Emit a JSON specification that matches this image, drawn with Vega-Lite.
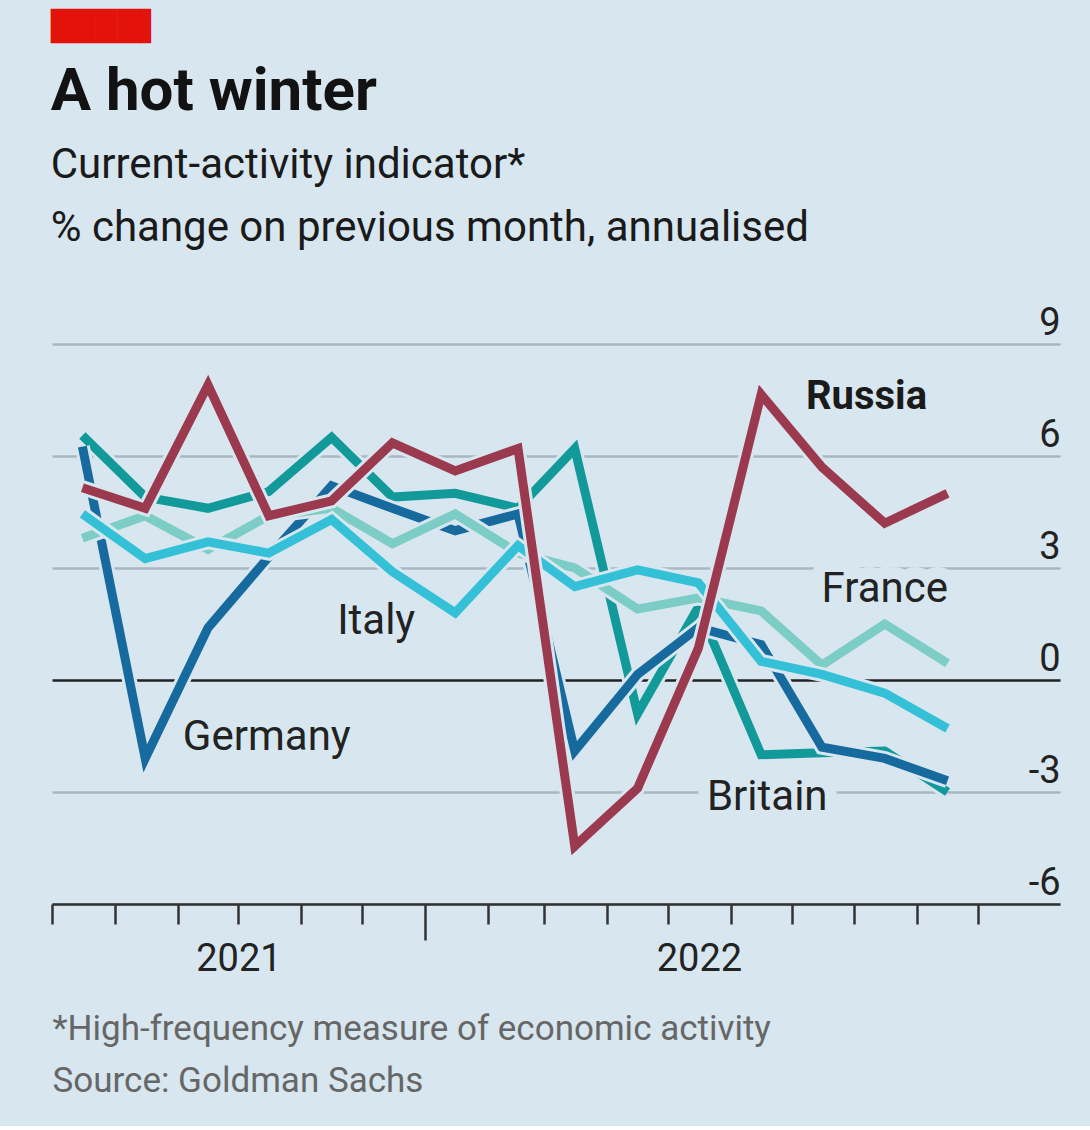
{
  "$schema": "https://vega.github.io/schema/vega-lite/v6.json",
  "background": "#d7e6ef",
  "padding": {"left": 50, "right": 32, "top": 13, "bottom": 28},
  "config": {"view": {"stroke": null}, "font": "Roboto"},
  "title": {"text": "████▌", "font": "DejaVu Sans", "fontSize": 29, "color": "#e3120b", "anchor": "start", "offset": 20, "fontWeight": "normal", "baseline": "top"},
  "datasets": {
    "series": [
      {"country": "Russia", "date": "2021-07-16", "value": 5.15},
      {"country": "Russia", "date": "2021-08-16", "value": 4.6},
      {"country": "Russia", "date": "2021-09-16", "value": 7.9},
      {"country": "Russia", "date": "2021-10-16", "value": 4.4},
      {"country": "Russia", "date": "2021-11-16", "value": 4.8},
      {"country": "Russia", "date": "2021-12-16", "value": 6.35},
      {"country": "Russia", "date": "2022-01-16", "value": 5.6},
      {"country": "Russia", "date": "2022-02-16", "value": 6.2},
      {"country": "Russia", "date": "2022-03-16", "value": -4.45},
      {"country": "Russia", "date": "2022-04-16", "value": -2.9},
      {"country": "Russia", "date": "2022-05-16", "value": 0.85},
      {"country": "Russia", "date": "2022-06-16", "value": 7.65},
      {"country": "Russia", "date": "2022-07-16", "value": 5.7},
      {"country": "Russia", "date": "2022-08-16", "value": 4.2},
      {"country": "Russia", "date": "2022-09-16", "value": 5.0},
      {"country": "Germany", "date": "2021-07-16", "value": 6.25},
      {"country": "Germany", "date": "2021-08-16", "value": -2.1},
      {"country": "Germany", "date": "2021-09-16", "value": 1.4},
      {"country": "Germany", "date": "2021-10-16", "value": 3.3},
      {"country": "Germany", "date": "2021-11-16", "value": 5.2},
      {"country": "Germany", "date": "2021-12-16", "value": 4.6},
      {"country": "Germany", "date": "2022-01-16", "value": 4.0},
      {"country": "Germany", "date": "2022-02-16", "value": 4.45},
      {"country": "Germany", "date": "2022-03-16", "value": -1.9},
      {"country": "Germany", "date": "2022-04-16", "value": 0.15},
      {"country": "Germany", "date": "2022-05-16", "value": 1.4},
      {"country": "Germany", "date": "2022-06-16", "value": 0.95},
      {"country": "Germany", "date": "2022-07-16", "value": -1.8},
      {"country": "Germany", "date": "2022-08-16", "value": -2.1},
      {"country": "Germany", "date": "2022-09-16", "value": -2.7},
      {"country": "Britain", "date": "2021-07-16", "value": 6.55},
      {"country": "Britain", "date": "2021-08-16", "value": 4.9},
      {"country": "Britain", "date": "2021-09-16", "value": 4.6},
      {"country": "Britain", "date": "2021-10-16", "value": 5.05},
      {"country": "Britain", "date": "2021-11-16", "value": 6.5},
      {"country": "Britain", "date": "2021-12-16", "value": 4.9},
      {"country": "Britain", "date": "2022-01-16", "value": 5.0},
      {"country": "Britain", "date": "2022-02-16", "value": 4.6},
      {"country": "Britain", "date": "2022-03-16", "value": 6.2},
      {"country": "Britain", "date": "2022-04-16", "value": -0.9},
      {"country": "Britain", "date": "2022-05-16", "value": 1.95},
      {"country": "Britain", "date": "2022-06-16", "value": -2.0},
      {"country": "Britain", "date": "2022-07-16", "value": -1.95},
      {"country": "Britain", "date": "2022-08-16", "value": -1.9},
      {"country": "Britain", "date": "2022-09-16", "value": -3.0},
      {"country": "Italy", "date": "2021-07-16", "value": 4.45},
      {"country": "Italy", "date": "2021-08-16", "value": 3.25},
      {"country": "Italy", "date": "2021-09-16", "value": 3.7},
      {"country": "Italy", "date": "2021-10-16", "value": 3.4},
      {"country": "Italy", "date": "2021-11-16", "value": 4.3},
      {"country": "Italy", "date": "2021-12-16", "value": 2.9},
      {"country": "Italy", "date": "2022-01-16", "value": 1.8},
      {"country": "Italy", "date": "2022-02-16", "value": 3.6},
      {"country": "Italy", "date": "2022-03-16", "value": 2.5},
      {"country": "Italy", "date": "2022-04-16", "value": 2.95},
      {"country": "Italy", "date": "2022-05-16", "value": 2.6},
      {"country": "Italy", "date": "2022-06-16", "value": 0.5},
      {"country": "Italy", "date": "2022-07-16", "value": 0.15},
      {"country": "Italy", "date": "2022-08-16", "value": -0.35},
      {"country": "Italy", "date": "2022-09-16", "value": -1.3},
      {"country": "France", "date": "2021-07-16", "value": 3.8},
      {"country": "France", "date": "2021-08-16", "value": 4.4},
      {"country": "France", "date": "2021-09-16", "value": 3.5},
      {"country": "France", "date": "2021-10-16", "value": 4.4},
      {"country": "France", "date": "2021-11-16", "value": 4.6},
      {"country": "France", "date": "2021-12-16", "value": 3.65},
      {"country": "France", "date": "2022-01-16", "value": 4.45},
      {"country": "France", "date": "2022-02-16", "value": 3.4},
      {"country": "France", "date": "2022-03-16", "value": 3.0},
      {"country": "France", "date": "2022-04-16", "value": 1.9},
      {"country": "France", "date": "2022-05-16", "value": 2.2},
      {"country": "France", "date": "2022-06-16", "value": 1.85},
      {"country": "France", "date": "2022-07-16", "value": 0.4},
      {"country": "France", "date": "2022-08-16", "value": 1.5},
      {"country": "France", "date": "2022-09-16", "value": 0.45}
    ],
    "labels": [
      {"label": "Russia", "date": "2022-08-07", "value": 7.58},
      {"label": "France", "date": "2022-08-16", "value": 2.44},
      {"label": "Italy", "date": "2021-12-08", "value": 1.58},
      {"label": "Germany", "date": "2021-10-15", "value": -1.53},
      {"label": "Britain", "date": "2022-06-19", "value": -3.13}
    ]
  },
  "vconcat": [
    {
      "width": 1008,
      "height": 560,
      "title": {
        "text": "A hot winter",
        "subtitle": ["Current-activity indicator*", "% change on previous month, annualised"],
        "anchor": "start",
        "font": "Roboto",
        "fontSize": 60,
        "fontWeight": "bold",
        "color": "#121212",
        "subtitleFont": "Roboto",
        "subtitleFontSize": 42,
        "subtitleColor": "#1a1a1a",
        "subtitleLineHeight": 63,
        "subtitlePadding": 22,
        "offset": 54
      },
      "encoding": {
        "x": {"field": "date", "type": "temporal",
          "scale": {"type": "utc", "domain": [{"year": 2021, "month": 7, "date": 1, "utc": true}, {"year": 2022, "month": 11, "date": 10, "hours": 12, "utc": true}]},
          "axis": {
            "values": [
              {"year": 2021, "month": 7, "date": 1, "utc": true},
              {"year": 2021, "month": 8, "date": 1, "utc": true},
              {"year": 2021, "month": 9, "date": 1, "utc": true},
              {"year": 2021, "month": 10, "date": 1, "utc": true},
              {"year": 2021, "month": 11, "date": 1, "utc": true},
              {"year": 2021, "month": 12, "date": 1, "utc": true},
              {"year": 2022, "month": 1, "date": 1, "utc": true},
              {"year": 2022, "month": 2, "date": 1, "utc": true},
              {"year": 2022, "month": 3, "date": 1, "utc": true},
              {"year": 2022, "month": 4, "date": 1, "utc": true},
              {"year": 2022, "month": 5, "date": 1, "utc": true},
              {"year": 2022, "month": 6, "date": 1, "utc": true},
              {"year": 2022, "month": 7, "date": 1, "utc": true},
              {"year": 2022, "month": 8, "date": 1, "utc": true},
              {"year": 2022, "month": 9, "date": 1, "utc": true},
              {"year": 2022, "month": 10, "date": 1, "utc": true}
            ],
            "orient": "bottom",
            "grid": false,
            "domainColor": "#333333",
            "domainWidth": 2.5,
            "tickColor": "#333333",
            "tickWidth": 2.5,
            "tickSize": {"condition": {"test": "utcmonth(datum.value) === 0", "value": 36}, "value": 20},
            "labelExpr": "utcmonth(datum.value) === 9 && utcyear(datum.value) === 2021 ? '2021' : (utcmonth(datum.value) === 4 && utcyear(datum.value) === 2022 ? '2022' : '')",
            "labelOffset": {"condition": {"test": "utcmonth(datum.value) === 4", "value": 31}, "value": 0},
            "labelFontSize": 38,
            "labelColor": "#222222",
            "labelPadding": 16,
            "labelOverlap": false,
            "labelFlush": false,
            "labelBound": false,
            "title": ["*High-frequency measure of economic activity", "Source: Goldman Sachs"],
            "titleFontSize": 35,
            "titleFontWeight": "normal",
            "titleColor": "#666666",
            "titleLineHeight": 52,
            "titleAnchor": "start",
            "titleAlign": "left",
            "titleBaseline": "alphabetic",
            "titleX": 0,
            "titleY": 135
          }},
        "y": {"field": "value", "type": "quantitative",
          "scale": {"domain": [-6, 9], "nice": false, "zero": false},
          "axis": {
            "orient": "right",
            "values": [-6, -3, 0, 3, 6, 9],
            "grid": true,
            "gridColor": {"condition": {"test": "datum.value === 0", "value": "#222222"}, "value": "#a9b7c1"},
            "gridWidth": 2.5,
            "domain": false,
            "ticks": false,
            "labelAlign": "right",
            "labelBaseline": "alphabetic",
            "labelOffset": -10,
            "labelPadding": 0,
            "labelFontSize": 38,
            "labelColor": "#222222",
            "labelExpr": "'' + datum.value",
            "title": null
          }}
      },
      "layer": [
        {
          "data": {"name": "labels"},
          "mark": {"type": "text", "fontSize": 42, "stroke": "#d7e6ef", "strokeWidth": 24, "strokeJoin": "round", "fill": "#d7e6ef", "baseline": "middle", "align": "center"},
          "encoding": {"text": {"field": "label"}}
        },
        {"data": {"name": "series"}, "transform": [{"filter": "datum.country === 'Britain'"}], "mark": {"type": "line", "stroke": "#d7e6ef", "strokeWidth": 15, "strokeCap": "butt"}},
        {"data": {"name": "series"}, "transform": [{"filter": "datum.country === 'Britain'"}], "mark": {"type": "line", "stroke": "#12999a", "strokeWidth": 9, "strokeCap": "butt"}},
        {"data": {"name": "series"}, "transform": [{"filter": "datum.country === 'Germany'"}], "mark": {"type": "line", "stroke": "#d7e6ef", "strokeWidth": 15, "strokeCap": "butt"}},
        {"data": {"name": "series"}, "transform": [{"filter": "datum.country === 'Germany'"}], "mark": {"type": "line", "stroke": "#176a9e", "strokeWidth": 9, "strokeCap": "butt"}},
        {"data": {"name": "series"}, "transform": [{"filter": "datum.country === 'France'"}], "mark": {"type": "line", "stroke": "#d7e6ef", "strokeWidth": 15, "strokeCap": "butt"}},
        {"data": {"name": "series"}, "transform": [{"filter": "datum.country === 'France'"}], "mark": {"type": "line", "stroke": "#7ccdc5", "strokeWidth": 9, "strokeCap": "butt"}},
        {"data": {"name": "series"}, "transform": [{"filter": "datum.country === 'Italy'"}], "mark": {"type": "line", "stroke": "#d7e6ef", "strokeWidth": 15, "strokeCap": "butt"}},
        {"data": {"name": "series"}, "transform": [{"filter": "datum.country === 'Italy'"}], "mark": {"type": "line", "stroke": "#34c1d8", "strokeWidth": 9, "strokeCap": "butt"}},
        {"data": {"name": "series"}, "transform": [{"filter": "datum.country === 'Russia'"}], "mark": {"type": "line", "stroke": "#d7e6ef", "strokeWidth": 15, "strokeCap": "butt"}},
        {"data": {"name": "series"}, "transform": [{"filter": "datum.country === 'Russia'"}], "mark": {"type": "line", "stroke": "#9b3a4f", "strokeWidth": 9, "strokeCap": "butt"}},
        {
          "data": {"name": "labels"},
          "transform": [{"filter": "datum.label !== 'Russia'"}],
          "mark": {"type": "text", "fontSize": 42, "color": "#222222", "baseline": "middle", "align": "center"},
          "encoding": {"text": {"field": "label"}}
        },
        {
          "data": {"name": "labels"},
          "transform": [{"filter": "datum.label === 'Russia'"}],
          "mark": {"type": "text", "fontSize": 40, "fontWeight": "bold", "color": "#1a1a1a", "baseline": "middle", "align": "center"},
          "encoding": {"text": {"field": "label"}}
        }
      ]
    }
  ]
}
